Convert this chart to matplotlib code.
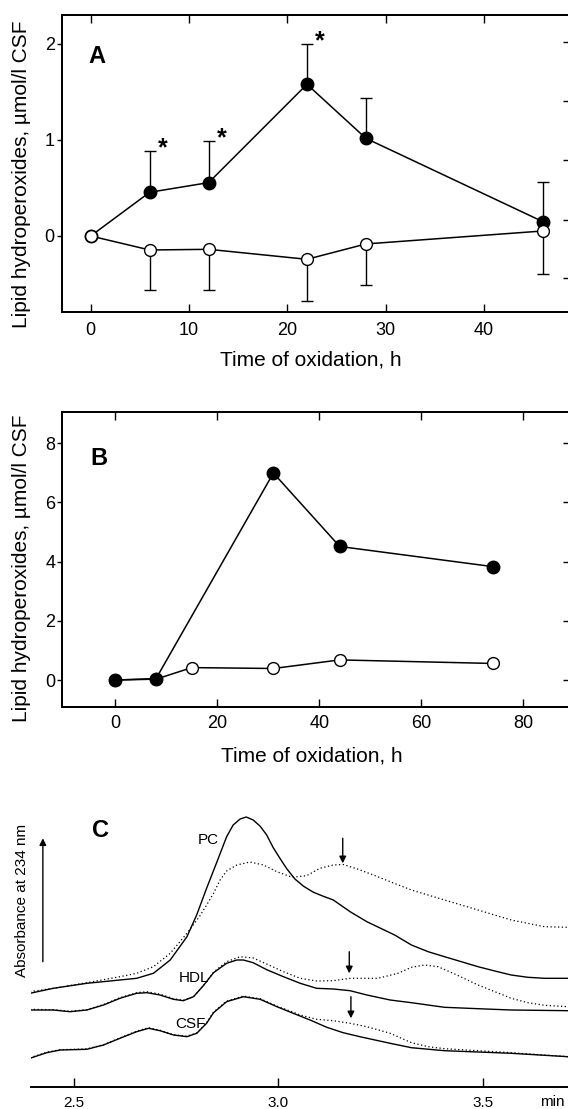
import matplotlib
matplotlib.use("Agg")
import matplotlib.pyplot as plt

plt.rcParams["font.family"] = ["Liberation Sans", "DejaVu Sans"]

W, H = 568, 1109

# ---- panel A: lipid hydroperoxides vs time (CSF oxidation)
a_hours = [0, 6, 12, 22, 28, 46]
a_oxidized = [0, 0.455, 0.556, 1.580, 1.017, 0.149]
a_oxidized_sd = [0, 0.43, 0.43, 0.42, 0.42, 0.41]
a_control = [0, -0.146, -0.139, -0.243, -0.083, 0.052]
a_control_sd = [0, 0.42, 0.42, 0.43, 0.43, 0.45]
a_significant = [1, 2, 3]  # indices marked with *
a_yticks = [0, 1, 2]
a_xticks = [0, 10, 20, 30, 40]
a_right_ticks = [-0.44, 0.17, 0.79, 1.41, 2.02]

# ---- panel B
b_ox_hours = [0, 8, 31, 44, 74]
b_oxidized = [0, 0.05, 6.99, 4.51, 3.83]
b_ctrl_hours = [0, 8, 15, 31, 44, 74]
b_control = [0, 0.03, 0.42, 0.39, 0.68, 0.56]
b_yticks = [0, 2, 4, 6, 8]
b_xticks = [0, 20, 40, 60, 80]

# ---- panel C: HPLC traces, absorbance at 234 nm (arbitrary units)
pc_t = [2.393, 2.450, 2.532, 2.613, 2.654, 2.695, 2.736, 2.777, 2.801, 2.825, 2.850, 2.874,
        2.890, 2.907, 2.922, 2.939, 2.956, 2.972, 2.988, 3.005, 3.021, 3.041, 3.062, 3.086,
        3.110, 3.135, 3.176, 3.217, 3.285, 3.326, 3.367, 3.407, 3.448, 3.489, 3.530, 3.570,
        3.611, 3.652, 3.709]
pc_solid = [0.934, 0.984, 1.034, 1.067, 1.084, 1.134, 1.267, 1.500, 1.720, 1.984, 2.245, 2.500,
            2.617, 2.677, 2.697, 2.667, 2.605, 2.517, 2.390, 2.280, 2.180, 2.077, 2.005, 1.945,
            1.905, 1.867, 1.750, 1.650, 1.517, 1.417, 1.350, 1.300, 1.250, 1.200, 1.157, 1.117,
            1.094, 1.084, 1.084]
pc_dot_t = [2.393, 2.450, 2.532, 2.613, 2.654, 2.695, 2.736, 2.777, 2.809, 2.825, 2.842, 2.858,
            2.874, 2.899, 2.931, 2.964, 2.997, 3.034, 3.070, 3.102, 3.135, 3.159, 3.192, 3.233,
            3.274, 3.326, 3.407, 3.489, 3.570, 3.652, 3.709]
pc_dotted = [0.950, 0.984, 1.040, 1.100, 1.134, 1.200, 1.334, 1.534, 1.710, 1.817, 1.934, 2.067,
             2.157, 2.217, 2.247, 2.217, 2.150, 2.095, 2.110, 2.184, 2.217, 2.222, 2.180, 2.117,
             2.050, 1.967, 1.867, 1.767, 1.667, 1.600, 1.594]

hdl_t = [2.393, 2.450, 2.491, 2.532, 2.573, 2.613, 2.654, 2.679, 2.711, 2.744, 2.768, 2.793,
         2.817, 2.842, 2.874, 2.899, 2.915, 2.939, 2.972, 3.013, 3.054, 3.094, 3.135, 3.176,
         3.217, 3.274, 3.326, 3.407, 3.489, 3.570, 3.709]
hdl_solid = [0.767, 0.767, 0.750, 0.767, 0.817, 0.884, 0.934, 0.940, 0.917, 0.874, 0.860, 0.900,
             1.010, 1.140, 1.234, 1.267, 1.267, 1.240, 1.170, 1.100, 1.034, 0.984, 0.977, 0.960,
             0.917, 0.867, 0.840, 0.794, 0.780, 0.767, 0.760]
hdl_dot_t = [2.393, 2.450, 2.491, 2.532, 2.573, 2.613, 2.654, 2.679, 2.711, 2.744, 2.768, 2.793,
             2.817, 2.842, 2.874, 2.907, 2.939, 2.972, 3.013, 3.054, 3.094, 3.135, 3.176, 3.217,
             3.244, 3.293, 3.326, 3.358, 3.391, 3.432, 3.489, 3.530, 3.570, 3.611, 3.652, 3.709]
hdl_dotted = [0.774, 0.770, 0.754, 0.770, 0.822, 0.890, 0.940, 0.950, 0.925, 0.880, 0.864, 0.900,
              1.010, 1.146, 1.250, 1.300, 1.287, 1.227, 1.150, 1.084, 1.057, 1.060, 1.084, 1.084,
              1.084, 1.134, 1.194, 1.217, 1.200, 1.127, 1.017, 0.950, 0.884, 0.840, 0.814, 0.800]

csf_t = [2.393, 2.434, 2.467, 2.532, 2.573, 2.613, 2.654, 2.683, 2.711, 2.744, 2.777, 2.801,
         2.825, 2.842, 2.874, 2.915, 2.956, 2.997, 3.037, 3.078, 3.119, 3.159, 3.200, 3.274,
         3.326, 3.407, 3.489, 3.570, 3.652, 3.709]
csf_solid = [0.284, 0.340, 0.367, 0.374, 0.417, 0.484, 0.550, 0.584, 0.560, 0.517, 0.500, 0.534,
             0.634, 0.740, 0.850, 0.900, 0.874, 0.800, 0.734, 0.667, 0.594, 0.540, 0.500, 0.434,
             0.390, 0.360, 0.347, 0.334, 0.314, 0.300]
csf_dot_t = [2.393, 2.434, 2.467, 2.532, 2.573, 2.613, 2.654, 2.683, 2.711, 2.744, 2.777, 2.801,
             2.825, 2.842, 2.874, 2.915, 2.956, 2.997, 3.037, 3.054, 3.094, 3.135, 3.176, 3.217,
             3.274, 3.326, 3.367, 3.407, 3.489, 3.570, 3.709]
csf_dotted = [0.290, 0.345, 0.370, 0.378, 0.420, 0.488, 0.556, 0.590, 0.565, 0.520, 0.505, 0.538,
              0.640, 0.746, 0.856, 0.906, 0.880, 0.806, 0.745, 0.717, 0.674, 0.660, 0.634, 0.600,
              0.534, 0.440, 0.400, 0.380, 0.360, 0.340, 0.300]

c_labels = ["PC", "HDL", "CSF"]
c_label_pos = [(2.829, 2.43), (2.794, 1.05), (2.785, 0.585)]
# arrows marking the oxidation peak: (time, top, tip)
c_arrows = [(3.158, 2.484, 2.234), (3.174, 1.350, 1.134), (3.178, 0.900, 0.684)]
c_xticks = [2.5, 3.0, 3.5]


def box(left, top, right, bottom):
    return [left / W, 1 - bottom / H, (right - left) / W, (bottom - top) / H]


def style_frame(ax, yticks, xticks, right_ticks, xpad):
    for s in ax.spines.values():
        s.set_linewidth(1.3)
    ax.set_xticks(xticks)
    ax.set_yticks(yticks)
    ax.tick_params(axis="x", direction="in", top=True, bottom=True, length=5.8,
                   width=1, labelsize=13, pad=xpad)
    ax.tick_params(axis="y", direction="out", left=True, right=False, length=3.5,
                   width=1, labelsize=13, pad=1.5)
    ax2 = ax.twinx()
    ax2.set_ylim(ax.get_ylim())
    ax2.set_yticks(right_ticks)
    ax2.tick_params(axis="y", direction="in", length=5, width=1, labelright=False)
    for s in ax2.spines.values():
        s.set_linewidth(1.3)


fig = plt.figure(figsize=(W / 100, H / 100), dpi=100)

# ---------------- A
ax = fig.add_axes(box(61.7, 15, 570, 312))
ax.set_xlim(-2.95, 48.76)
ax.set_ylim(-0.792, 2.302)
ax.errorbar(a_hours[1:], a_oxidized[1:], yerr=[[0] * 5, a_oxidized_sd[1:]], fmt="none",
            ecolor="black", elinewidth=1, capsize=4.5, capthick=1, zorder=2)
ax.errorbar(a_hours[1:], a_control[1:], yerr=[a_control_sd[1:], [0] * 5], fmt="none",
            ecolor="black", elinewidth=1, capsize=4.5, capthick=1, zorder=2)
ax.plot(a_hours, a_oxidized, "-o", color="black", lw=1.1, ms=9, mfc="black", zorder=3)
ax.plot(a_hours, a_control, "-o", color="black", lw=1.1, ms=8.5, mfc="white", mew=1,
        zorder=4)
for i in a_significant:
    top = a_oxidized[i] + a_oxidized_sd[i]
    ax.annotate("*", xy=(a_hours[i] + 1.3, top + 0.10), xytext=(0, -10),
                textcoords="offset points", ha="center", va="baseline",
                fontsize=18, fontweight="bold")
style_frame(ax, a_yticks, a_xticks, a_right_ticks, 7)
fig.text(97.2 / W, 1 - 63.3 / H, "A", fontsize=17, fontweight="bold", ha="center",
         va="baseline")
fig.text(311 / W, 1 - 365 / H, "Time of oxidation, h", fontsize=15, ha="center",
         va="baseline")
fig.text(21.8 / W, 1 - 174 / H, "Lipid hydroperoxides, µmol/l CSF", fontsize=15,
         rotation=90, ha="center", va="center")

# ---------------- B
bx = fig.add_axes(box(62.4, 411.7, 570, 706.7))
bx.set_xlim(-10.37, 89.16)
bx.set_ylim(-0.90, 9.06)
bx.plot(b_ctrl_hours, b_control, "-o", color="black", lw=1.1, ms=8.5, mfc="white",
        mew=1, zorder=3)
bx.plot(b_ox_hours, b_oxidized, "-o", color="black", lw=1.1, ms=9, mfc="black", zorder=4)
style_frame(bx, b_yticks, b_xticks, b_yticks, 6)
fig.text(98.7 / W, 1 - 465 / H, "B", fontsize=17, fontweight="bold", ha="center",
         va="baseline")
fig.text(311.6 / W, 1 - 761.7 / H, "Time of oxidation, h", fontsize=15, ha="center",
         va="baseline")
fig.text(21.8 / W, 1 - 568 / H, "Lipid hydroperoxides, µmol/l CSF", fontsize=15,
         rotation=90, ha="center", va="center")

# ---------------- C
cx = fig.add_axes(box(30.8, 800, 568, 1086.7))
cx.set_xlim(2.395, 3.709)
cx.set_ylim(0, 2.867)
for t, y in [(pc_t, pc_solid), (hdl_t, hdl_solid), (csf_t, csf_solid)]:
    cx.plot(t, y, color="black", lw=1.0, solid_joinstyle="round")
for t, y in [(pc_dot_t, pc_dotted), (hdl_dot_t, hdl_dotted), (csf_dot_t, csf_dotted)]:
    cx.plot(t, y, color="black", lw=0.9, ls=(0, (1, 2)))
for lab, (t, y) in zip(c_labels, c_label_pos):
    cx.text(t, y, lab, fontsize=11, ha="center", va="baseline")
for t, top, tip in c_arrows:
    cx.annotate("", xy=(t, tip), xytext=(t, top),
                arrowprops=dict(arrowstyle="-|>", color="black", lw=1.0,
                                mutation_scale=10, shrinkA=0, shrinkB=0))
cx.annotate("", xy=(2.4245, 2.484), xytext=(2.4245, 1.25),
            arrowprops=dict(arrowstyle="-|>", color="black", lw=1.0,
                            mutation_scale=10, shrinkA=0, shrinkB=0))
for s in ["left", "top", "right"]:
    cx.spines[s].set_visible(False)
cx.spines["bottom"].set_linewidth(1.4)
cx.set_yticks([])
cx.set_xticks(c_xticks)
cx.set_xticklabels(["2.5", "3.0", "3.5"])
cx.tick_params(axis="x", direction="in", length=6.5, width=1, labelsize=11, pad=7)
# unit label, nudged left so it stays fully inside the figure
cx.text(3.641, -0.052, "min", transform=cx.get_xaxis_transform(), fontsize=11,
        ha="left", va="center")
fig.text(100.5 / W, 1 - 836.7 / H, "C", fontsize=17, fontweight="bold", ha="center",
         va="baseline")
fig.text(21.8 / W, 1 - 900 / H, "Absorbance at 234 nm", fontsize=11, rotation=90,
         ha="center", va="center")

fig.savefig("out.png", dpi=100)
